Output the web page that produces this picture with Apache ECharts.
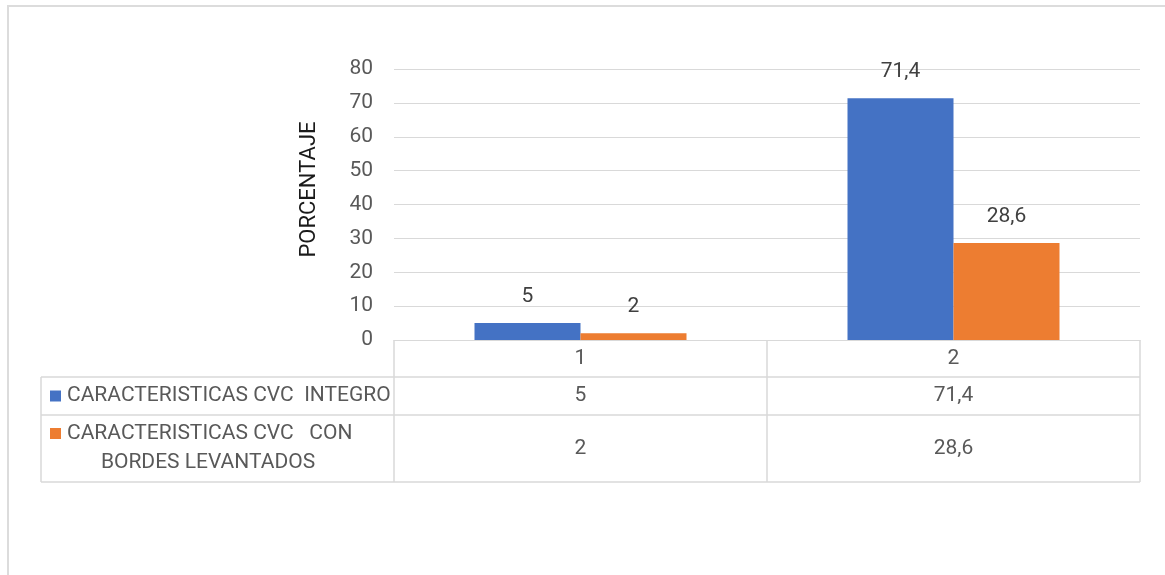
<!DOCTYPE html>
<html>
<head>
<meta charset="utf-8">
<script src="https://cdn.jsdelivr.net/npm/echarts@6/dist/echarts.min.js"></script>
<style>
  html, body { margin: 0; padding: 0; background: #fff; }
  #chart { width: 1165px; height: 575px; }
</style>
</head>
<body>
<div id="chart"></div>
<script>
// Categories, series and axis ticks
const categories = ['1', '2'];
const seriesNames = ['CARACTERISTICAS CVC  INTEGRO', 'CARACTERISTICAS CVC   CON\nBORDES LEVANTADOS'];
const integro = [5, 71.4];
const bordesLevantados = [2, 28.6];
const yTicks = [0, 10, 20, 30, 40, 50, 60, 70, 80];
const yAxisTitle = 'PORCENTAJE';

const colors = ['#4472C4', '#ED7D31'];
const FONT = 'Roboto';
const textGray = '#595959';
const lineGray = '#d9d9d9';

// Plot frame
const plotL = 394, plotR = 1140, plotT = 69, axisY = 340;
const W = 1165, H = 575;

const fmt = v => String(v).replace('.', ',');

const chart = echarts.init(document.getElementById('chart'), null, { renderer: 'canvas' });

const option = {
  backgroundColor: '#fff',
  animation: false,
  grid: { left: plotL, right: W - plotR, top: plotT, bottom: H - axisY, containLabel: false },
  xAxis: {
    type: 'category',
    data: categories,
    axisLine: { show: true, lineStyle: { color: lineGray, width: 1 } },
    axisTick: { show: false },
    axisLabel: { color: textGray, fontFamily: FONT, fontSize: 21, margin: 8 }
  },
  yAxis: {
    type: 'value',
    min: yTicks[0],
    max: yTicks[yTicks.length - 1],
    interval: yTicks[1] - yTicks[0],
    name: yAxisTitle,
    nameLocation: 'middle',
    nameGap: 74,
    nameRotate: 90,
    nameTextStyle: { color: '#1a1a1a', fontFamily: FONT, fontSize: 22, padding: [0, 0, 0, 30] },
    axisLine: { show: false },
    axisTick: { show: false },
    axisLabel: { color: textGray, fontFamily: FONT, fontSize: 21, margin: 21 },
    splitLine: { lineStyle: { color: lineGray, width: 1 } }
  },
  series: [
    {
      name: seriesNames[0],
      type: 'bar',
      data: integro,
      barWidth: 106,
      barGap: '0%',
      itemStyle: { color: colors[0] },
      label: { show: true, position: 'top', distance: 16, color: '#404040', fontFamily: FONT, fontSize: 21, formatter: p => fmt(p.value) }
    },
    {
      name: seriesNames[1],
      type: 'bar',
      data: bordesLevantados,
      barWidth: 106,
      barGap: '0%',
      itemStyle: { color: colors[1] },
      label: { show: true, position: 'top', distance: 16, color: '#404040', fontFamily: FONT, fontSize: 21, formatter: p => fmt(p.value) }
    }
  ]
};

chart.setOption(option);

// Data table under the plot, aligned with the category axis
const tableL = 41;
const rowLines = [377, 415, 482];
const catX = categories.map((c, i) => chart.convertToPixel({ xAxisIndex: 0 }, i));
const bandW = catX.length > 1 ? catX[1] - catX[0] : (plotR - plotL);
const colLines = [plotL].concat(catX.map(x => x + bandW / 2));

const g = [];
const line = (x1, y1, x2, y2) => g.push({
  type: 'line', silent: true,
  shape: { x1, y1, x2, y2 },
  style: { stroke: lineGray, lineWidth: 1.5 }
});
const txt = (x, y, text, align) => g.push({
  type: 'text', silent: true,
  style: { x, y, text, fill: textGray, font: '21px ' + FONT, textAlign: align || 'center', textVerticalAlign: 'middle' }
});

// outer chart border
g.push({ type: 'rect', silent: true, shape: { x: 8, y: 6, width: W, height: H }, style: { fill: 'none', stroke: '#dcdcdc', lineWidth: 2 } });

rowLines.forEach(y => line(tableL, y, plotR, y));
line(tableL, rowLines[0], tableL, rowLines[2]);
colLines.forEach(x => line(x, axisY, x, rowLines[2]));

const rowMid = [(rowLines[0] + rowLines[1]) / 2, (rowLines[1] + rowLines[2]) / 2];
[integro, bordesLevantados].forEach((vals, r) => {
  vals.forEach((v, i) => txt(catX[i], rowMid[r], fmt(v)));
});

// legend keys with series names
g.push({ type: 'rect', silent: true, shape: { x: 50, y: rowMid[0] - 5.5, width: 11, height: 11 }, style: { fill: colors[0] } });
txt(67, rowMid[0], seriesNames[0], 'left');
const name2 = seriesNames[1].split('\n');
g.push({ type: 'rect', silent: true, shape: { x: 50, y: 428, width: 11, height: 11 }, style: { fill: colors[1] } });
txt(67, 434, name2[0], 'left');
txt(208, 463, name2[1], 'center');

chart.setOption({ graphic: g });
</script>
</body>
</html>
